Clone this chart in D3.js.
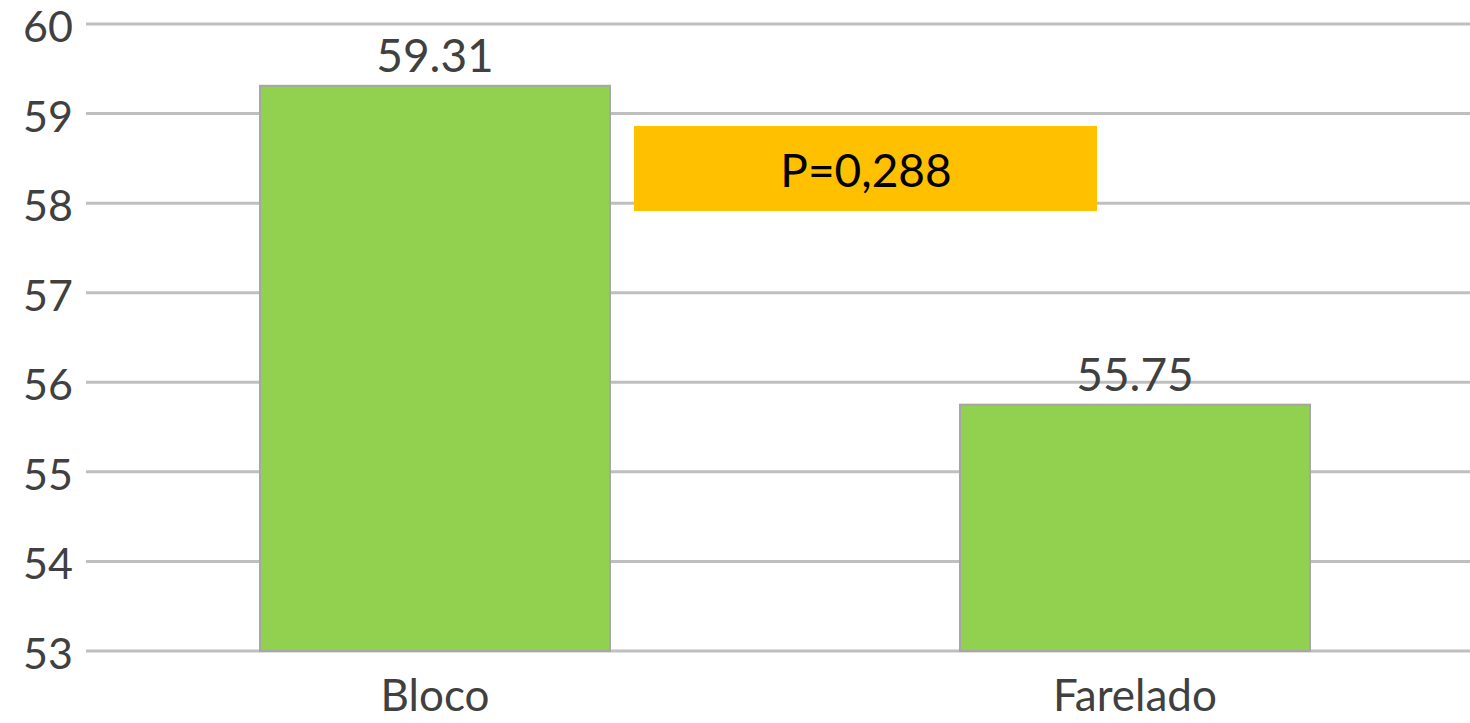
<!DOCTYPE html>
<html><head><meta charset="utf-8">
<script src="https://cdn.jsdelivr.net/npm/d3@7"></script>
<style>body{margin:0;background:#fff}svg{display:block}</style>
</head><body>
<svg id="c" width="1470" height="723"></svg>
<script>
const categories = ["Bloco", "Farelado"];
const values = [59.31, 55.75];
const valueLabels = ["59.31", "55.75"];
const yTicks = [53, 54, 55, 56, 57, 58, 59, 60];
const annotation = "P=0,288";

const svg = d3.select("#c");
const font = "Lato, 'Open Sans', sans-serif";
const y = d3.scaleLinear().domain([53, 60]).range([651, 24]);
const x = d3.scaleBand().domain(categories).range([85, 1485]).paddingInner(0.5).paddingOuter(0.25);

// grid
svg.append("g").selectAll("line").data(yTicks).join("line")
  .attr("x1", 86).attr("x2", 1470)
  .attr("y1", d => y(d)).attr("y2", d => y(d))
  .attr("stroke", "#bfbfbf").attr("stroke-width", 3);

// y labels
svg.append("g").selectAll("text").data(yTicks).join("text")
  .attr("x", 73).attr("y", d => y(d)).attr("dy", "0.42em")
  .attr("text-anchor", "end").attr("font-family", font).attr("font-size", 43)
  .attr("fill", "#404040").text(d => d);

// bars
svg.append("g").selectAll("rect").data(categories).join("rect")
  .attr("x", d => x(d)).attr("width", x.bandwidth())
  .attr("y", (d, i) => y(values[i])).attr("height", (d, i) => y(53) - y(values[i]))
  .attr("fill", "#92d050").attr("stroke", "#a6a6a6").attr("stroke-width", 2);

// value labels
svg.append("g").selectAll("text").data(categories).join("text")
  .attr("x", d => x(d) + x.bandwidth() / 2).attr("y", (d, i) => y(values[i]) - 14)
  .attr("text-anchor", "middle").attr("font-family", font).attr("font-size", 46)
  .attr("fill", "#404040").text((d, i) => valueLabels[i]);

// category labels
svg.append("g").selectAll("text").data(categories).join("text")
  .attr("x", d => x(d) + x.bandwidth() / 2).attr("y", 711)
  .attr("text-anchor", "middle").attr("font-family", font).attr("font-size", 44)
  .attr("fill", "#404040").text(d => d);

// annotation box
svg.append("rect").attr("x", 634).attr("y", 126).attr("width", 463).attr("height", 85)
  .attr("fill", "#ffc000");
svg.append("text").attr("x", 866).attr("y", 187).attr("text-anchor", "middle")
  .attr("font-family", font).attr("font-size", 46).attr("fill", "#000").text(annotation);
</script>
</body></html>
